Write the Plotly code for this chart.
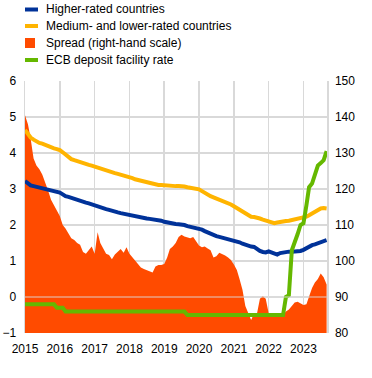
import pandas as pd
import plotly.graph_objects as go

# Monthly observations, Jan 2015 - Sep 2023
dates = pd.date_range("2015-01-01", periods=105, freq="MS")

higher_rated = [
    3.22, 3.15, 3.10, 3.08, 3.06, 3.04, 3.03, 3.01, 3.00, 2.98, 2.96, 2.94,
    2.90, 2.85, 2.80, 2.78, 2.75, 2.73, 2.71, 2.68, 2.65, 2.62, 2.60, 2.57,
    2.54, 2.52, 2.50, 2.47, 2.44, 2.42, 2.39, 2.37, 2.35, 2.33, 2.31, 2.29,
    2.28, 2.26, 2.24, 2.22, 2.20, 2.19, 2.18, 2.17, 2.16, 2.15, 2.14, 2.12,
    2.09, 2.07, 2.05, 2.04, 2.03, 2.02, 2.02, 2.00, 1.97, 1.95, 1.94, 1.92,
    1.91, 1.87, 1.83, 1.79, 1.75, 1.72, 1.69, 1.67, 1.65, 1.63, 1.60, 1.58,
    1.56, 1.54, 1.52, 1.48, 1.45, 1.41, 1.40, 1.39, 1.33, 1.28, 1.25, 1.24,
    1.27, 1.24, 1.20, 1.18, 1.22, 1.24, 1.25, 1.26, 1.26, 1.26, 1.27, 1.28,
    1.31, 1.36, 1.41, 1.44, 1.46, 1.49, 1.52, 1.55, 1.58,
]

medium_lower = [
    4.64, 4.52, 4.43, 4.37, 4.32, 4.28, 4.26, 4.22, 4.19, 4.17, 4.13, 4.11,
    4.08, 4.02, 3.95, 3.89, 3.83, 3.80, 3.77, 3.74, 3.72, 3.69, 3.67, 3.65,
    3.62, 3.60, 3.58, 3.55, 3.52, 3.48, 3.46, 3.44, 3.42, 3.40, 3.37, 3.34,
    3.32, 3.30, 3.27, 3.25, 3.23, 3.20, 3.17, 3.15, 3.13, 3.12, 3.11, 3.11,
    3.10, 3.09, 3.08, 3.08, 3.08, 3.08, 3.08, 3.07, 3.05, 3.03, 3.02, 3.01,
    2.99, 2.94, 2.89, 2.85, 2.80, 2.77, 2.74, 2.71, 2.68, 2.65, 2.61, 2.57,
    2.52, 2.47, 2.42, 2.36, 2.30, 2.25, 2.23, 2.22, 2.21, 2.18, 2.15, 2.12,
    2.10, 2.07, 2.05, 2.07, 2.09, 2.10, 2.11, 2.12, 2.14, 2.16, 2.18, 2.19,
    2.20, 2.23, 2.27, 2.32, 2.37, 2.42, 2.46, 2.47, 2.46,
]

spread = [
    140.5, 138.0, 134.0, 128.5, 126.5, 125.5, 124.0, 122.0, 119.5, 117.0, 115.3, 114.0,
    112.5, 110.0, 109.0, 107.5, 106.3, 105.8, 105.0, 104.5, 102.5, 102.0, 103.0, 104.0,
    102.0, 108.0, 105.0, 103.5, 102.0, 101.7, 100.5, 101.8, 102.5, 103.3, 102.3, 103.8,
    102.0, 101.0, 100.0, 99.0, 98.2, 97.8, 97.5, 97.0, 96.8, 98.5, 98.9, 98.9,
    99.2, 101.0, 103.3, 104.0, 105.0, 106.7, 107.3, 106.8, 106.6, 106.3, 106.7, 105.5,
    104.3, 103.8, 104.0, 103.5, 103.0, 101.0, 101.3, 102.3, 102.0, 101.5, 101.0, 100.3,
    99.0, 97.5, 95.0, 92.0, 87.5, 85.5, 83.6, 85.5, 85.5, 89.5, 90.2, 89.5,
    85.5, 85.0, 85.0, 85.0, 85.0, 85.0, 86.0, 86.5, 87.5, 88.5, 88.7, 88.3,
    87.8, 88.0, 90.0, 92.5, 94.0, 95.0, 96.5, 95.5, 93.5,
]

deposit_rate = [
    -0.2, -0.2, -0.2, -0.2, -0.2, -0.2, -0.2, -0.2, -0.2, -0.2, -0.2, -0.3,
    -0.3, -0.3, -0.4, -0.4, -0.4, -0.4, -0.4, -0.4, -0.4, -0.4, -0.4, -0.4,
    -0.4, -0.4, -0.4, -0.4, -0.4, -0.4, -0.4, -0.4, -0.4, -0.4, -0.4, -0.4,
    -0.4, -0.4, -0.4, -0.4, -0.4, -0.4, -0.4, -0.4, -0.4, -0.4, -0.4, -0.4,
    -0.4, -0.4, -0.4, -0.4, -0.4, -0.4, -0.4, -0.4, -0.5, -0.5, -0.5, -0.5,
    -0.5, -0.5, -0.5, -0.5, -0.5, -0.5, -0.5, -0.5, -0.5, -0.5, -0.5, -0.5,
    -0.5, -0.5, -0.5, -0.5, -0.5, -0.5, -0.5, -0.5, -0.5, -0.5, -0.5, -0.5,
    -0.5, -0.5, -0.5, -0.5, -0.5, -0.5, 0.0, 0.05, 1.3, 1.5, 1.75, 2.0,
    2.05, 2.55, 3.05, 3.15, 3.4, 3.65, 3.72, 3.8, 4.05,
]

left_ticks = [-1, 0, 1, 2, 3, 4, 5, 6]
right_ticks = [80, 90, 100, 110, 120, 130, 140, 150]

legend_labels = [
    "Higher-rated countries",
    "Medium- and lower-rated countries",
    "Spread (right-hand scale)",
    "ECB deposit facility rate",
]

BLUE = "#003299"
YELLOW = "#ffb400"
ORANGE = "#ff4b00"
GREEN = "#65b800"
GRID = "#d9d9d9"
FONT = "Arial, Liberation Sans, sans-serif"

fig = go.Figure()

fig.add_trace(go.Scatter(
    x=dates, y=spread, yaxis="y", mode="lines", fill="tozeroy",
    fillcolor=ORANGE, line=dict(width=0, color=ORANGE), name=legend_labels[2],
))
fig.add_trace(go.Scatter(
    x=dates, y=higher_rated, yaxis="y2", mode="lines",
    line=dict(width=4, color=BLUE), name=legend_labels[0],
))
fig.add_trace(go.Scatter(
    x=dates, y=medium_lower, yaxis="y2", mode="lines",
    line=dict(width=4, color=YELLOW), name=legend_labels[1],
))
fig.add_trace(go.Scatter(
    x=dates, y=deposit_rate, yaxis="y2", mode="lines",
    line=dict(width=4, color=GREEN), name=legend_labels[3],
))

# Target plot area in page pixels: x 25..327, y 81..333 (body margin removed)
W, H = 372, 378
PL, PR, PT, PB = 25, 327, 81, 333
ML, MT = PL, PT
MR, MB = W - PR, H - PB
PW, PH = PR - PL, PB - PT


def xp(px):
    return (px - PL) / PW


def yp(py):
    return (PB - py) / PH


shapes = []
annotations = []
legend_rows = [
    (9.5, "line", BLUE),
    (26.0, "line", YELLOW),
    (43.0, "box", ORANGE),
    (60.0, "line", GREEN),
]
for (cy, kind, col), label in zip(legend_rows, legend_labels):
    if kind == "line":
        shapes.append(dict(type="rect", xref="paper", yref="paper",
                           x0=xp(25), x1=xp(38), y0=yp(cy + 2), y1=yp(cy - 2),
                           fillcolor=col, line=dict(width=0)))
    else:
        shapes.append(dict(type="rect", xref="paper", yref="paper",
                           x0=xp(25), x1=xp(35), y0=yp(cy + 5), y1=yp(cy - 5),
                           fillcolor=col, line=dict(width=0)))
    annotations.append(dict(xref="paper", yref="paper", x=xp(44), y=yp(cy),
                            xanchor="left", yanchor="middle", text=label,
                            showarrow=False, font=dict(family=FONT, size=12, color="#000000")))

# zero line drawn above the spread area
shapes.append(dict(type="line", xref="paper", yref="y2", x0=0, x1=1, y0=0, y1=0,
                   layer="above", line=dict(color="rgba(222,222,222,0.6)", width=1.5)))

fig.update_layout(
    template="none",
    width=W, height=H,
    margin=dict(l=ML, r=MR, t=MT, b=MB, pad=0, autoexpand=False),
    paper_bgcolor="white", plot_bgcolor="white",
    showlegend=False,
    hovermode=False,
    font=dict(family=FONT, size=12, color="#000000"),
    xaxis=dict(
        type="date", range=["2015-01-01", "2023-09-05"],
        tick0="2015-01-01", dtick="M12", tickformat="%Y",
        showgrid=True, gridcolor=GRID, gridwidth=1.5,
        zeroline=False, showline=False, ticks="", automargin=False,
        ticklabelstandoff=7,
        tickfont=dict(family=FONT, size=12, color="#000000"),
    ),
    yaxis=dict(
        side="right", range=[80, 150], tickvals=right_ticks,
        showgrid=True, gridcolor=GRID, gridwidth=1.5,
        zeroline=False, showline=True, linecolor=GRID, linewidth=1.5,
        ticks="", ticklabelstandoff=4, automargin=False,
        tickfont=dict(family=FONT, size=12, color="#000000"),
    ),
    yaxis2=dict(
        side="left", overlaying="y", range=[-1, 6], tickvals=left_ticks,
        showgrid=False, zeroline=False, showline=True, linecolor=GRID, linewidth=1.5,
        ticks="", ticklabelstandoff=5, automargin=False,
        tickfont=dict(family=FONT, size=12, color="#000000"),
    ),
    shapes=shapes,
    annotations=annotations,
)

fig.write_html(
    "out.html",
    config={"displayModeBar": False, "staticPlot": True},
    post_script="document.body.style.margin='0px';",
)
